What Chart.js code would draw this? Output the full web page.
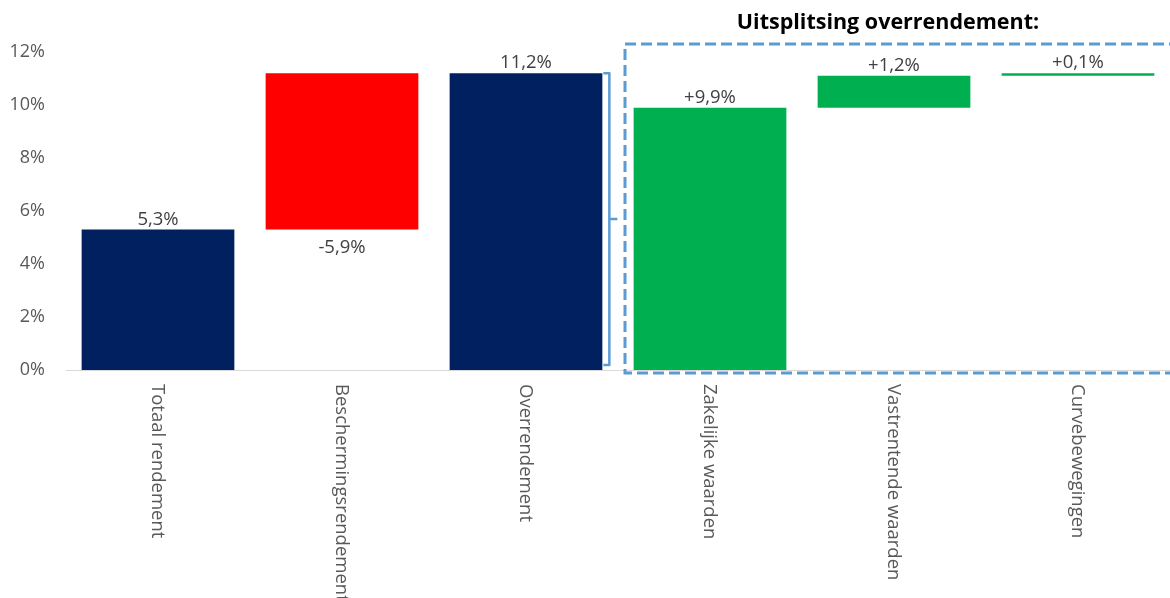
<!DOCTYPE html>
<html lang="nl">
<head>
<meta charset="utf-8">
<title>Uitsplitsing overrendement</title>
<script src="https://cdn.jsdelivr.net/npm/chart.js@4"></script>
<style>
    html, body { margin: 0; padding: 0; background: #fff; }
    #wrap { position: relative; width: 1170px; height: 598px; }
</style>
</head>
<body>
<div id="wrap"><canvas id="dataChart" width="1170" height="598"></canvas></div>
<script>
// dati
const categories = ['Totaal rendement', 'Beschermingsrendement', 'Overrendement', 'Zakelijke waarden', 'Vastrentende waarden', 'Curvebewegingen'];
const barStart = [0, 5.3, 0, 0, 9.9, 11.1];
const barEnd = [5.3, 11.2, 11.2, 9.9, 11.1, 11.2];
const valueLabels = ['5,3%', '-5,9%', '11,2%', '+9,9%', '+1,2%', '+0,1%'];
const labelBelow = [false, true, false, false, false, false];
const barColors = ['#002060', '#ff0000', '#002060', '#00b050', '#00b050', '#00b050'];
const yTicks = [0, 2, 4, 6, 8, 10, 12];
const boxTitle = 'Uitsplitsing overrendement:';

const FONT = '"Open Sans", sans-serif';
const TEXT_COLOR = '#595959';

let chart = null;

// etichette dei valori sopra/sotto le barre
const valueLabelPlugin = {
    id: 'valueLabels',
    afterDatasetsDraw(c) {
        const ctx = c.ctx;
        const meta = c.getDatasetMeta(0);
        ctx.save();
        ctx.font = '18.5px ' + FONT;
        ctx.fillStyle = '#404040';
        ctx.textAlign = 'center';
        meta.data.forEach((bar, i) => {
            const top = Math.min(bar.y, bar.base);
            const bottom = Math.max(bar.y, bar.base);
            if (labelBelow[i]) {
                ctx.textBaseline = 'top';
                ctx.fillText(valueLabels[i], bar.x, bottom + 9);
            } else {
                ctx.textBaseline = 'bottom';
                ctx.fillText(valueLabels[i], bar.x, top - 1);
            }
        });
        ctx.restore();
    }
};

// etichette categorie ruotate (lette dall'alto verso il basso)
const categoryLabelPlugin = {
    id: 'categoryLabels',
    afterDraw(c) {
        const ctx = c.ctx;
        const x = c.scales.x;
        ctx.save();
        ctx.font = '18.5px ' + FONT;
        ctx.fillStyle = TEXT_COLOR;
        ctx.textAlign = 'left';
        ctx.textBaseline = 'middle';
        categories.forEach((cat, i) => {
            ctx.save();
            ctx.translate(x.getPixelForValue(i) - 1, c.chartArea.bottom + 14);
            ctx.rotate(Math.PI / 2);
            ctx.fillText(cat, 0, 0);
            ctx.restore();
        });
        ctx.restore();
    }
};

// parentesi e riquadro tratteggiato
const annotationPlugin = {
    id: 'bracketBox',
    afterDraw(c) {
        const ctx = c.ctx;
        const x = c.scales.x;
        const y = c.scales.y;
        const meta = c.getDatasetMeta(0);
        const bar = meta.data[2];
        const right = bar.x + bar.width / 2;
        const bx = right + 7;
        const top = bar.y;
        const bottom = bar.base - 5;
        const mid = (top + bottom) / 2;

        ctx.save();
        ctx.strokeStyle = '#5b9bd5';
        ctx.lineWidth = 2.5;
        ctx.lineJoin = 'round';
        ctx.beginPath();
        ctx.moveTo(right + 1, top);
        ctx.lineTo(bx, top);
        ctx.lineTo(bx, bottom);
        ctx.lineTo(right + 1, bottom);
        ctx.moveTo(bx, mid);
        ctx.lineTo(bx + 8, mid);
        ctx.stroke();

        // riquadro
        const boxLeft = (x.getPixelForValue(2) + x.getPixelForValue(3)) / 2 + 7;
        const boxTop = y.getPixelForValue(12) - 8;
        const boxBottom = y.getPixelForValue(0) + 3;
        ctx.lineWidth = 3;
        ctx.setLineDash([11, 5]);
        ctx.lineJoin = 'miter';
        ctx.beginPath();
        ctx.moveTo(c.width + 10, boxTop);
        ctx.lineTo(boxLeft, boxTop);
        ctx.lineTo(boxLeft, boxBottom);
        ctx.lineTo(c.width + 10, boxBottom);
        ctx.stroke();
        ctx.setLineDash([]);

        // titolo del riquadro
        ctx.font = 'bold 21.5px ' + FONT;
        ctx.fillStyle = '#000';
        ctx.textAlign = 'center';
        ctx.textBaseline = 'alphabetic';
        ctx.fillText(boxTitle, x.getPixelForValue(4) - 6, 29);
        ctx.restore();
    }
};

function initChart() {
    const ctx = document.getElementById('dataChart').getContext('2d');
    const floating = barStart.map((s, i) => [s, barEnd[i]]);
    chart = new Chart(ctx, {
        type: 'bar',
        data: {
            labels: categories,
            datasets: [{
                data: floating,
                backgroundColor: barColors,
                borderWidth: 0,
                barPercentage: 0.83,
                categoryPercentage: 1
            }]
        },
        options: {
            responsive: false,
            animation: false,
            layout: { padding: { top: 52, right: 0, left: 0, bottom: 0 } },
            plugins: { legend: { display: false }, tooltip: { enabled: false } },
            scales: {
                x: {
                    grid: { display: false },
                    border: { display: true, color: '#d9d9d9', width: 1 },
                    ticks: { display: false },
                    afterFit(scale) { scale.height = 228; }
                },
                y: {
                    min: 0,
                    max: 12,
                    afterBuildTicks(scale) { scale.ticks = yTicks.map(v => ({ value: v })); },
                    grid: { display: false, drawTicks: false },
                    border: { display: false },
                    ticks: {
                        color: TEXT_COLOR,
                        font: { family: FONT, size: 18 },
                        padding: 21,
                        callback: v => v + '%'
                    },
                    afterFit(scale) { scale.width = 66; }
                }
            }
        },
        plugins: [valueLabelPlugin, categoryLabelPlugin, annotationPlugin]
    });
}

window.onload = initChart;
</script>
</body>
</html>
